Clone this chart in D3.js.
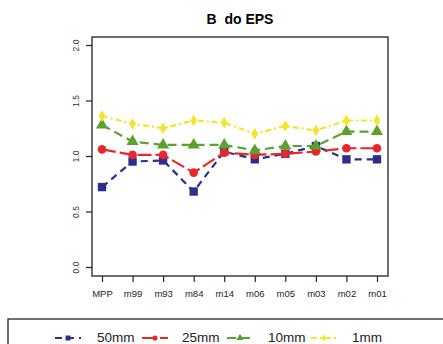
<!DOCTYPE html>
<html><head><meta charset="utf-8">
<script src="https://cdn.jsdelivr.net/npm/d3@7"></script>
<style>body{margin:0;background:#fff}svg{display:block}</style>
</head><body>
<svg id="c" width="443" height="344"></svg>
<script>
const categories = ["MPP","m99","m93","m84","m14","m06","m05","m03","m02","m01"];
const s50mm = [0.72,0.95,0.96,0.68,1.04,0.97,1.02,1.09,0.97,0.97];
const s25mm = [1.06,1.01,1.01,0.85,1.03,1.01,1.02,1.04,1.07,1.07];
const s10mm = [1.28,1.13,1.10,1.10,1.10,1.05,1.09,1.09,1.22,1.22];
const s1mm  = [1.36,1.29,1.25,1.32,1.30,1.20,1.27,1.23,1.32,1.32];
const seriesNames = ["50mm","25mm","10mm","1mm"];
const yTicks = [0.0,0.5,1.0,1.5,2.0];

const series = [
  {name:seriesNames[0], values:s50mm, color:"#2b2e8c", dash:"7,5", sym:d3.symbolSquare, size:70},
  {name:seriesNames[1], values:s25mm, color:"#e8262b", dash:"14,4", sym:d3.symbolCircle, size:58},
  {name:seriesNames[2], values:s10mm, color:"#5ba12f", dash:"9,5", sym:d3.symbolTriangle, size:64},
  {name:seriesNames[3], values:s1mm,  color:"#f4e52c", dash:"6,3,2,3", sym:d3.symbolDiamond, size:40}
];

const svg = d3.select("#c");
const L=92,R=388,T=37,B=276;
const x = d3.scalePoint().domain(categories).range([102,377]);
const y = d3.scaleLinear().domain([0,2]).range([267,45]);

svg.append("text").attr("x",240).attr("y",24).attr("text-anchor","middle").style("white-space","pre")
  .attr("font-family","Liberation Sans, Arial").attr("font-weight","bold").attr("font-size",14).text("B  do EPS");

svg.append("rect").attr("x",L).attr("y",T).attr("width",R-L).attr("height",B-T)
  .attr("fill","none").attr("stroke","#222").attr("stroke-width",1.3);

const ya = svg.append("g").attr("transform",`translate(${L},0)`)
  .call(d3.axisLeft(y).tickValues(yTicks).tickFormat(d3.format(".1f")).tickSize(6));
ya.select(".domain").remove();
ya.selectAll("line").attr("stroke","#222").attr("stroke-width",1.2);
ya.selectAll("text").attr("font-family","Liberation Sans, Arial").attr("font-size",8.5).attr("fill","#333")
  .attr("x",0).attr("y",0).attr("dy","0.35em").attr("text-anchor","middle")
  .attr("transform","translate(-16,0) rotate(-90)");

const xa = svg.append("g").attr("transform",`translate(0,${B})`)
  .call(d3.axisBottom(x).tickSize(6).tickPadding(8));
xa.select(".domain").remove();
xa.selectAll("line").attr("stroke","#222").attr("stroke-width",1.2);
xa.selectAll("text").attr("font-family","Liberation Sans, Arial").attr("font-size",9.5).attr("fill","#222");

const line = d3.line().x((d,i)=>x(categories[i])).y(d=>y(d));
series.forEach(s=>{
  svg.append("path").attr("d",line(s.values)).attr("fill","none").attr("stroke",s.color)
    .attr("stroke-width",2.2).attr("stroke-dasharray",s.dash);
  svg.append("g").selectAll("path").data(s.values).join("path")
    .attr("transform",(d,i)=>`translate(${x(categories[i])},${y(d)})`)
    .attr("d",d3.symbol().type(s.sym).size(s.size)).attr("fill",s.color);
});

// legend
svg.append("rect").attr("x",8).attr("y",319).attr("width",450).attr("height",40)
  .attr("fill","none").attr("stroke","#222").attr("stroke-width",1.3);
const lx=[55,142,227,311];
const tx=[97,182,268,352];
series.forEach((s,i)=>{
  const g=svg.append("g");
  g.append("line").attr("x1",lx[i]).attr("x2",lx[i]+26).attr("y1",338).attr("y2",338)
    .attr("stroke",s.color).attr("stroke-width",2).attr("stroke-dasharray",s.dash);
  g.append("path").attr("transform",`translate(${lx[i]+13},338)`)
    .attr("d",d3.symbol().type(s.sym).size(s.size*0.35)).attr("fill",s.color);
  g.append("text").attr("x",tx[i]).attr("y",342).attr("font-family","Liberation Sans, Arial")
    .attr("font-size",13.5).attr("fill","#222").text(s.name);
});
</script>
</body></html>
